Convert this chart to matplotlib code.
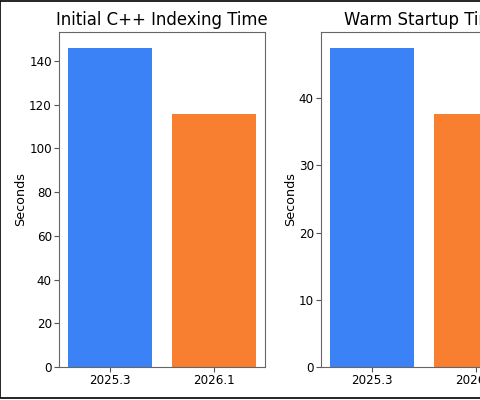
import matplotlib
matplotlib.use("Agg")
import matplotlib.pyplot as plt
from matplotlib.patches import Rectangle

versions = ["2025.3", "2026.1"]
indexing_seconds = [146, 116]
startup_seconds = [47.5, 37.7]
titles = ["Initial C++ Indexing Time", "Warm Startup Time"]
colors = ["#3b82f6", "#f77f2f"]

W, H = 480, 400
fig = plt.figure(figsize=(W / 100, H / 100), dpi=100)

def px_axes(x0, y0, x1, y1):
    return fig.add_axes([x0 / W, 1 - y1 / H, (x1 - x0) / W, (y1 - y0) / H])

ax1 = px_axes(59, 32, 265, 367)
ax2 = px_axes(321, 32, 527, 367)

for ax, vals, title in zip([ax1, ax2], [indexing_seconds, startup_seconds], titles):
    ax.bar(versions, vals, color=colors, width=0.8)
    ax.set_title(title, fontsize=11.9, pad=5)
    ax.set_ylabel("Seconds", fontsize=9.2, labelpad=1.2)
    ax.tick_params(labelsize=8.6, length=3.3, pad=1.8, color="#555555")
    for s in ax.spines.values():
        s.set_color("#666666")

fig.patches.append(Rectangle((0.001, 0.004), 1.2, 0.994, transform=fig.transFigure,
                             fill=False, edgecolor="black", linewidth=1.2))
fig.savefig("out.png", dpi=100)
